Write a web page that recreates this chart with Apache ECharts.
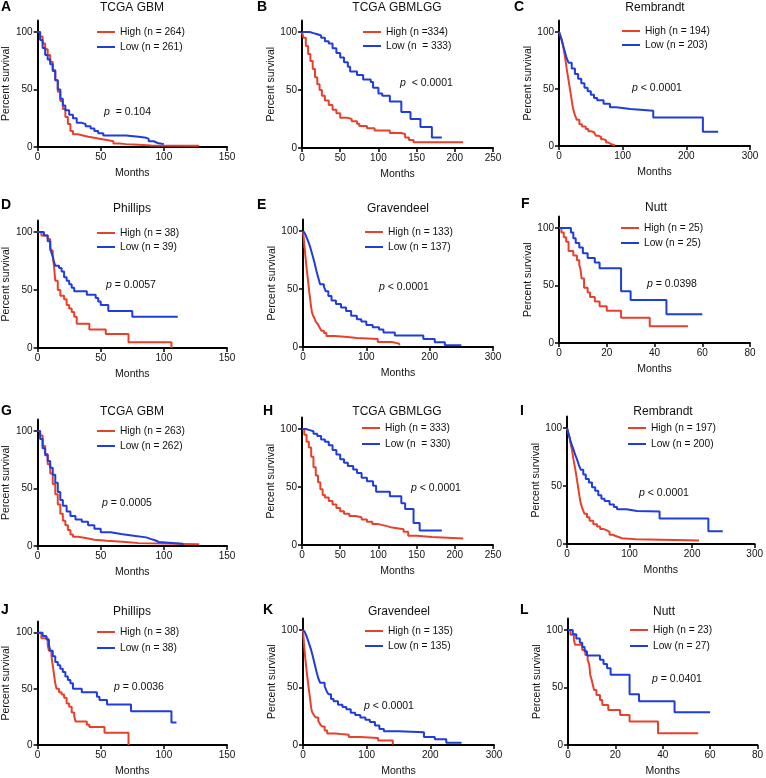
<!DOCTYPE html>
<html>
<head>
<meta charset="utf-8">
<script src="https://cdn.jsdelivr.net/npm/echarts@6/dist/echarts.min.js"></script>
<style>html,body{margin:0;padding:0;background:#fff}#c{width:766px;height:778px}</style>
</head>
<body>
<div id="c"></div>
<script>
// ---------- DATA (months, percent survival) ----------
const aHigh = [[0,100],[2,96],[4,90],[6,85],[8,80],[10,74],[12,67],[14,58],[16,48],[18,40],[20,33],[22,26],[24,20],[26,14],[28,11],[32,10],[36,9],[40,8],[45,7],[50,6],[55,5],[60,3],[65,2.5],[70,2],[80,1.2],[90,1],[128,1]];
const aLow = [[0,100],[2,93],[4,86],[6,80],[8,76],[10,72],[12,66],[14,58],[16,50],[18,42],[20,36],[22,32],[25,28],[28,25],[31,21],[35,20],[38,18],[42,16],[45,14],[48,12],[52,10],[60,10],[70,9],[80,8],[86,7],[88,5],[92,3.5],[95,2.5],[100,2]];
const bHigh = [[0,100],[2,95],[5,88],[8,81],[11,75],[14,68],[17,61],[20,55],[23,50],[26,45],[30,41],[35,37],[40,33],[45,30],[50,26],[60,25],[65,23],[72,21],[75,19],[85,17],[95,15],[105,15],[115,13],[130,12],[135,9],[140,7],[146,5],[211,5]];
const bLow = [[0,100],[10,99],[15,98],[20,97],[25,95],[30,92],[35,90],[40,86],[45,82],[50,78],[55,74],[60,70],[63,66],[72,63],[80,59],[90,57],[93,52],[100,47],[105,45],[115,40],[130,31],[142,25],[155,18],[170,9],[183,9]];
const cHigh = [[0,100],[2,97],[4,94],[6,89],[8,83],[10,76],[12,68],[14,61],[16,54],[18,47],[20,40],[22,33],[25,27],[28,23],[32,19],[36,17],[42,15],[46,13],[50,12],[55,11],[58,9],[62,8],[66,6],[70,5],[74,3],[78,1.5],[82,0.6],[88,0]];
const cLow = [[0,100],[3,95],[6,89],[9,83],[12,77],[15,73],[20,68],[25,63],[30,59],[35,55],[40,51],[45,48],[50,45],[55,42],[60,40],[70,37],[80,34],[90,32.5],[112,31],[148,25],[226,12.5],[250,12.5]];
const dHigh = [[0,100],[3,97],[8,94],[10,84],[12,79],[13,71],[14,58],[16,50],[18,45],[21,42],[23,37],[25,34],[27,31],[29,27],[31,21],[41,16],[54,12],[72,5],[106,0]];
const dLow = [[0,100],[5,97],[8,92],[10,87],[11,82],[12,79],[13,74],[14,71],[17,69],[19,66],[21,61],[23,58],[25,55],[27,52],[29,49],[39,46],[46,43],[48,40],[50,37],[56,32],[75,27],[111,27]];
const eHigh = [[0,100],[1,95],[2,88],[3,83],[4,77],[5,72],[6,66],[7,62],[8,57],[9,52],[10,47],[11,43],[12,38],[13,34],[14,30],[16,27],[18,25],[20,22],[23,20],[26,17],[29,14],[33,12],[37,9.5],[50,8.6],[70,7.8],[85,7],[118,4.3],[140,2.9],[152,1.5]];
const eLow = [[0,100],[3,98],[6,94],[9,90],[12,85],[15,79],[18,73],[21,66],[24,60],[27,54],[33,52],[36,48],[40,44],[45,40],[52,37],[60,34],[68,31],[76,27],[85,24],[92,22],[100,19],[110,17],[120,15],[127,12.5],[145,10],[190,7],[208,4],[224,1.5],[250,1.5]];
const fHigh = [[0,100],[1,96],[2,92],[3,88],[4,80],[6,76],[7.5,72],[8.5,68],[9,64],[9.5,56],[10.5,48],[12,44],[13,40],[15,36],[17,32],[20,28],[26,22],[38,14.5],[54,14.5]];
const fLow = [[0,100],[5,96],[6,91],[7,87],[8.5,83],[10,78],[12,74],[15,70],[17,65],[26,45],[30,37.5],[45,25],[60,25]];
const gHigh = [[0,100],[2,96],[4,87],[6,80],[8,71],[10,63],[12,54],[14,45],[16,36],[18,28],[20,22],[22,18],[24,14],[26,10],[28,8],[32,7],[38,5.5],[45,4.5],[55,3.5],[70,2.5],[80,1.5],[128,1.5]];
const gLow = [[0,100],[2,93],[4,85],[6,79],[8,74],[10,68],[12,62],[14,55],[16,47],[18,40],[20,35],[23,30],[26,26],[30,23],[35,21],[40,18],[45,15],[50,12],[58,10.5],[66,9],[76,7.5],[86,6],[90,5],[93,3.5],[96,2],[115,1]];
const hHigh = [[0,100],[3,95],[6,89],[9,84],[12,76],[15,67],[18,60],[21,54],[24,48],[27,43],[30,41],[35,38],[40,35],[45,32],[50,29],[55,27],[62,25],[70,24],[78,22],[85,20],[92,18],[100,16.5],[110,15],[118,13.5],[133,11.5],[139,8],[150,7],[170,5.5],[211,5]];
const hLow = [[0,100],[5,99],[10,98],[15,96],[20,94],[25,91],[30,89],[35,86],[40,82],[45,78],[50,74],[55,71],[60,68],[67,65],[72,62],[78,58],[85,55],[93,51],[97,46],[115,42],[130,36],[135,31],[146,19],[154,12.5],[183,12.5]];
const iHigh = [[0,100],[2,96],[4,92],[6,86],[8,81],[10,74],[12,68],[14,62],[16,55],[18,48],[20,41],[22,35],[25,30],[28,26],[32,23],[36,20],[42,17],[48,15],[53,13],[58,12],[63,10.5],[68,8],[73,6.5],[80,5],[88,4],[110,3],[211,2.5]];
const iLow = [[0,100],[2,96],[4,92],[6,88],[8,85],[10,82],[13,77],[16,73],[19,68],[22,64],[26,60],[30,56],[35,53],[40,49],[45,46],[50,42],[55,39],[60,37],[68,34],[75,32],[80,30],[95,28.5],[112,28],[148,22],[226,11],[249,11]];
const jHigh = [[0,100],[3,95],[8,89],[9,84],[11,79],[12,71],[13,63],[14,55],[15,50],[17,47],[19,45],[21,42],[23,37],[25,34],[27,29],[29,26],[30,21],[39,18],[41,16],[53,11],[72,0]];
const jLow = [[0,100],[4,97],[7,94],[9,89],[10,84],[12,79],[14,74],[16,71],[18,68],[20,65],[22,61],[24,58],[26,55],[28,50],[35,47],[47,43],[49,40],[55,36],[74,30],[106,20],[110,20]];
const kHigh = [[0,100],[1,92],[2,85],[3,79],[4,73],[5,68],[6,63],[7,58],[8,54],[9,49],[10,45],[11,41],[12,36],[13,32],[14,29],[17,26],[20,24],[24,21],[27,18],[30,16],[34,12.5],[38,10],[50,9.5],[60,9],[72,7],[90,6],[118,4],[141,0.5]];
const kLow = [[0,100],[3,98],[6,94],[9,89],[12,84],[15,78],[18,71],[21,64],[24,58],[27,54],[34,51],[37,47],[40,44],[44,40],[48,38],[55,35],[62,33],[68,31],[75,28],[82,26],[90,24],[98,22],[105,20],[113,17],[120,14],[127,12],[150,11],[190,7],[207,5],[225,2],[249,2]];
const lHigh = [[0,100],[1,95.7],[2.5,91.3],[3,87],[6,82.6],[7.3,78.3],[8.3,73.9],[9,69.6],[9.4,60.9],[10,56.5],[10.5,52.2],[11,47.8],[12,43.5],[13.5,39.1],[14.5,34.8],[17,30.4],[22,26],[26,20.5],[38,10.2],[55,10.2]];
const lLow = [[0,100],[2,96.3],[3.5,92.6],[5,88.9],[6,85.2],[7,81.5],[8,77.8],[13.5,74.1],[15,70.4],[16.5,66.7],[18,61],[26,44],[30,38],[45,28.5],[60,28.5]];

const highCurves = [aHigh,bHigh,cHigh,dHigh,eHigh,fHigh,gHigh,hHigh,iHigh,jHigh,kHigh,lHigh];
const lowCurves = [aLow,bLow,cLow,dLow,eLow,fLow,gLow,hLow,iLow,jLow,kLow,lLow];

const letters = ['A','B','C','D','E','F','G','H','I','J','K','L'];
const titles = ['TCGA GBM','TCGA GBMLGG','Rembrandt','Phillips','Gravendeel','Nutt','TCGA GBM','TCGA GBMLGG','Rembrandt','Phillips','Gravendeel','Nutt'];
const highLabels = ['High (n = 264)','High (n =334)','High (n = 194)','High (n = 38)','High (n = 133)','High (n = 25)','High (n = 263)','High (n = 333)','High (n = 197)','High (n = 38)','High (n = 135)','High (n = 23)'];
const lowLabels = ['Low (n = 261)','Low (n  = 333)','Low (n = 203)','Low (n = 39)','Low (n = 137)','Low (n = 25)','Low (n = 262)','Low (n  = 330)','Low (n = 200)','Low (n = 38)','Low (n = 135)','Low (n = 27)'];
const pTexts = ['  = 0.104','  < 0.0001',' < 0.0001',' = 0.0057',' < 0.0001',' = 0.0398',' = 0.0005',' < 0.0001',' < 0.0001',' = 0.0036',' < 0.0001',' = 0.0401'];
const xMaxes = [150,250,300,150,300,80,150,250,300,150,300,80];
const xIntervals = [50,50,100,50,100,20,50,50,100,50,100,20];
const yTicks = [0,50,100];
const yMax = 110;

// ---------- LAYOUT ----------
const grids = [
  [35,20.5,192,126.5],[302,20.4,191,127.6],[559,20.5,191,125.5],
  [36,220.4,191,127.6],[303,219.4,190,127.6],[559,216.5,191,126.5],
  [36,419.5,191,126.5],[302,417.4,191,127.6],[567,416.4,191,127.6],
  [36,621.5,191,126.5],[303,618.4,191,127.6],[568,618.4,190,127.6]
];
const letterPos = [[1,7],[257,7],[514,7],[1,205],[257,205],[521,204],[1,411],[263,411],[520,411],[1,610],[263,610],[520,610]];
const titlePos = [[132,8],[397,8],[655,8],[132,209],[398,209],[656,208],[132,412],[397,412],[663,412],[132,612],[399,612],[664,612]];
const legendPos = [[97,32,47],[363,32,46],[622,31,45],[97,233,247],[365,232,247],[621,228,243],[97,431,446],[362,428,444],[628,428,444],[97,632,648],[365,631,646],[630,630,646]];
const pPos = [[104,112],[400,83],[632,88],[106,285],[379,287],[647,284],[102,503],[411,488],[639,493],[114,687],[364,706],[652,679]];

const FONT = "'Liberation Sans', Arial, Helvetica, sans-serif";
const RED = '#E8412B';
const BLUE = '#1E3DDA';
const INK = '#111';

const option = {
  backgroundColor: '#fff',
  animation: false,
  grid: [], xAxis: [], yAxis: [], series: [], legend: [], graphic: []
};

for (let i = 0; i < 12; i++) {
  const g = grids[i];
  option.grid.push({left: g[0], top: g[1], width: g[2], height: g[3], containLabel: false});
  option.xAxis.push({
    type: 'value', gridIndex: i, min: 0, max: xMaxes[i], interval: xIntervals[i],
    name: 'Months', nameLocation: 'middle', nameGap: 21,
    nameTextStyle: {fontSize: 10.5, color: INK, fontFamily: FONT},
    axisLine: {show: true, onZero: false, lineStyle: {color: '#000', width: 2}},
    axisTick: {show: true, length: 4, lineStyle: {color: '#000', width: 1.5}},
    axisLabel: {fontSize: 10, color: INK, fontFamily: FONT, margin: 5},
    splitLine: {show: false}
  });
  option.yAxis.push({
    type: 'value', gridIndex: i, min: 0, max: yMax,
    name: 'Percent survival', nameLocation: 'middle', nameGap: 22,
    nameTextStyle: {fontSize: 10.5, color: INK, fontFamily: FONT},
    axisLine: {show: true, onZero: false, lineStyle: {color: '#000', width: 2}},
    axisTick: {show: true, length: 4, customValues: yTicks, lineStyle: {color: '#000', width: 1.5}},
    axisLabel: {fontSize: 10, color: INK, fontFamily: FONT, margin: 5, customValues: yTicks},
    splitLine: {show: false}
  });
  option.series.push({
    type: 'line', name: highLabels[i], xAxisIndex: i, yAxisIndex: i,
    data: highCurves[i], step: 'end', symbol: 'none', silent: true,
    color: RED, lineStyle: {color: RED, width: 2}, z: 3
  });
  option.series.push({
    type: 'line', name: lowLabels[i], xAxisIndex: i, yAxisIndex: i,
    data: lowCurves[i], step: 'end', symbol: 'none', silent: true,
    color: BLUE, lineStyle: {color: BLUE, width: 2}, z: 3
  });
  const lp = legendPos[i];
  option.legend.push({
    orient: 'vertical', left: lp[0], top: lp[1] - 6, padding: 0,
    itemWidth: 18, itemHeight: 2, itemGap: lp[2] - lp[1] - 12, icon: 'rect',
    selectedMode: false,
    textStyle: {fontSize: 10.2, lineHeight: 12, color: INK, fontFamily: FONT},
    data: [highLabels[i], lowLabels[i]]
  });
  option.graphic.push({
    type: 'text', x: letterPos[i][0], y: letterPos[i][1],
    style: {text: letters[i], fontSize: 14, fontWeight: 'bold', fontFamily: FONT, fill: '#000', align: 'left', verticalAlign: 'middle'}
  });
  option.graphic.push({
    type: 'text', x: titlePos[i][0], y: titlePos[i][1],
    style: {text: titles[i], fontSize: 12, fontFamily: FONT, fill: INK, align: 'center', verticalAlign: 'middle'}
  });
  option.graphic.push({
    type: 'text', x: pPos[i][0], y: pPos[i][1],
    style: {
      text: '{i|p}' + pTexts[i], fontSize: 10.5, fontFamily: FONT, fill: INK, align: 'left', verticalAlign: 'middle',
      rich: {i: {fontStyle: 'italic', fontSize: 10.5, fontFamily: FONT, fill: INK}}
    }
  });
}

const chart = echarts.init(document.getElementById('c'), null, {renderer: 'canvas'});
chart.setOption(option);
</script>
</body>
</html>
